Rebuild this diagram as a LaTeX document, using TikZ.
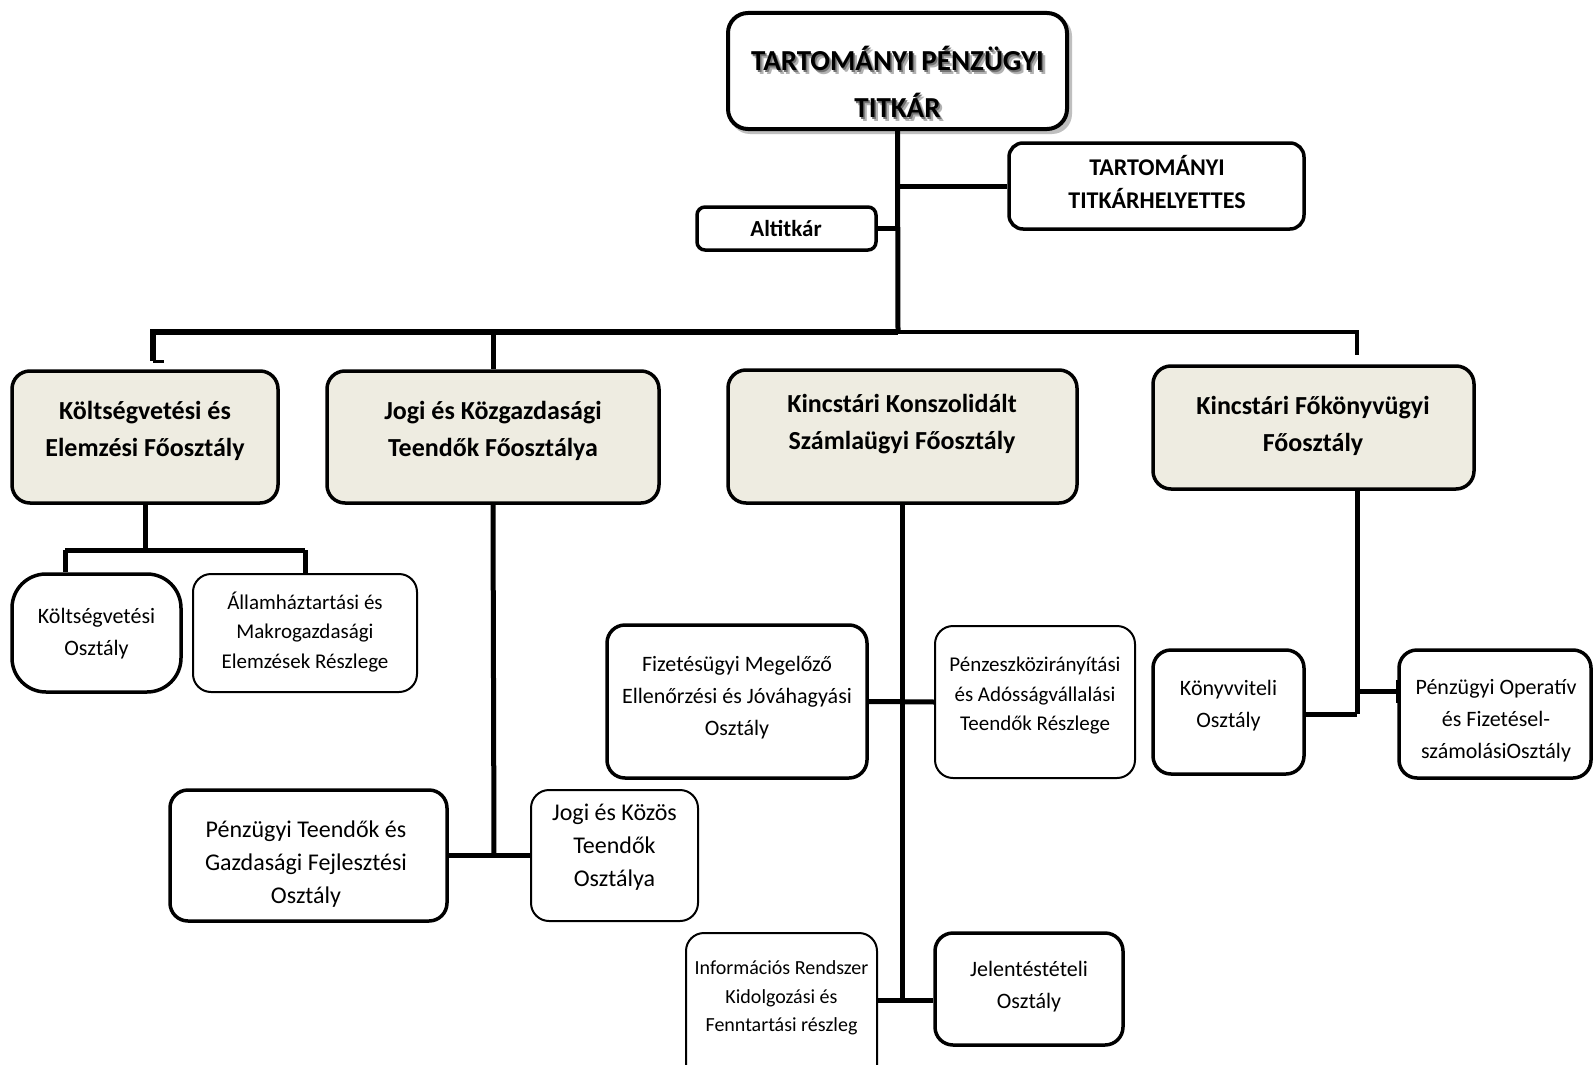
\documentclass[tikz,border=0pt]{standalone}
\usepackage{fontspec}
\setmainfont{Carlito}
\usetikzlibrary{calc}
\definecolor{beige}{HTML}{EEECE1}
\begin{document}
\begin{tikzpicture}[x=1pt,y=-1pt,
  bx/.style={draw=black, line width=3.5pt, rounded corners=18pt, fill=white, inner sep=0pt},
  thinbx/.style={draw=black, line width=2pt, rounded corners=18pt, fill=white, inner sep=0pt},
  head/.style={bx, fill=beige},
  txt/.style={align=center, inner sep=0pt},
  conn/.style={line width=5pt},
  connthin/.style={line width=4pt},
  fb26/.style={font=\fontsize{26}{37}\selectfont\bfseries},
  fb24/.style={font=\fontsize{24}{33}\selectfont\bfseries},
  fr24/.style={font=\fontsize{24}{33}\selectfont},
  fr22/.style={font=\fontsize{22}{32}\selectfont},
  fr21/.style={font=\fontsize{21}{29.5}\selectfont},
  fr20/.style={font=\fontsize{20}{28.5}\selectfont}]
\useasboundingbox (0,0) rectangle (1593,1065);
\fill[white] (0,0) rectangle (1593,1065);

% ---- top ----
\fill[black!25, rounded corners=20pt] (730,16) rectangle (1072,134);
\node[bx, line width=4pt, rounded corners=20pt, minimum width=339pt, minimum height=116pt] (top) at (897.5,71) {};
\node[txt, font=\fontsize{29}{47}\selectfont\bfseries, text=black!30] (topsh) at (901,86) {TARTOMÁNYI PÉNZÜGYI\\TITKÁR};
\node[txt, font=\fontsize{29}{47}\selectfont\bfseries, text=black!55] (topsh2) at (899,84) {TARTOMÁNYI PÉNZÜGYI\\TITKÁR};
\node[txt, font=\fontsize{29}{47}\selectfont\bfseries] (topt) at (897.5,82) {TARTOMÁNYI PÉNZÜGYI\\TITKÁR};

\node[bx, rounded corners=14pt, minimum width=295pt, minimum height=86pt] (dep) at (1156.5,186) {};
\node[txt, fb24] (dept) at (1157,182) {TARTOMÁNYI\\TITKÁRHELYETTES};

\node[bx, rounded corners=8pt, minimum width=179pt, minimum height=43pt] (alt) at (786.5,228.5) {};
\node[txt, font=\fontsize{23}{33}\selectfont\bfseries] (altt) at (786,228) {Altitkár};

% ---- heads ----
\node[head, minimum width=266pt, minimum height=132pt] (b1) at (145,437) {};
\node[txt, fb26] (b1t) at (145,431) {Költségvetési és\\Elemzési Főosztály};
\node[head, minimum width=332pt, minimum height=132pt] (b2) at (493,437) {};
\node[txt, fb26] (b2t) at (493,431) {Jogi és Közgazdasági\\Teendők Főosztálya};
\node[head, minimum width=349pt, minimum height=133pt] (b3) at (902.5,436.5) {};
\node[txt, fb26] (b3t) at (902,424) {Kincstári Konszolidált\\Számlaügyi Főosztály};
\node[head, minimum width=321pt, minimum height=123pt] (b4) at (1313.5,427.5) {};
\node[txt, fb26] (b4t) at (1313,426) {Kincstári Főkönyvügyi\\Főosztály};

% ---- departments ----
\node[bx, rounded corners=34pt, minimum width=169pt, minimum height=118pt] (c1) at (96.5,633) {};
\node[txt, fr22] (c1t) at (96.5,634) {Költségvetési\\Osztály};
\node[thinbx, minimum width=224pt, minimum height=118pt] (c2) at (305,633) {};
\node[txt, fr21] (c2t) at (305,632) {Államháztartási és\\Makrogazdasági\\Elemzések Részlege};

\node[bx, minimum width=277pt, minimum height=131pt] (c3) at (308.5,855.5) {};
\node[txt, fr24] (c3t) at (306,864) {Pénzügyi Teendők és\\Gazdasági Fejlesztési\\Osztály};
\node[thinbx, minimum width=167pt, minimum height=131pt] (c4) at (614.5,855.5) {};
\node[txt, fr24] (c4t) at (614.5,847) {Jogi és Közös\\Teendők\\Osztálya};

\node[bx, minimum width=260pt, minimum height=153pt] (c5) at (737,701.5) {};
\node[txt, fr22] (c5t) at (737,698) {Fizetésügyi Megelőző\\Ellenőrzési és Jóváhagyási\\Osztály};
\node[thinbx, minimum width=200pt, minimum height=152pt] (c6) at (1035,702) {};
\node[txt, fr21] (c6t) at (1035,696) {Pénzeszközirányítási\\és Adósságvállalási\\Teendők Részlege};
\node[thinbx, minimum width=191pt, minimum height=150pt] (c7) at (781.5,1008) {};
\node[txt, fr20] (c7t) at (781.5,998) {Információs Rendszer\\Kidolgozási és\\Fenntartási részleg};
\node[bx, minimum width=188pt, minimum height=112pt] (c8) at (1029,989) {};
\node[txt, fr22] (c8t) at (1029,987) {Jelentéstételi\\Osztály};

\node[bx, minimum width=151pt, minimum height=124pt] (c9) at (1228.5,712) {};
\node[txt, fr22] (c9t) at (1228.5,706) {Könyvviteli\\Osztály};
\node[bx, minimum width=192pt, minimum height=128pt] (c10) at (1495,714) {};
\node[txt, fr22] (c10t) at (1496,721) {Pénzügyi Operatív\\és Fizetésel-\\számolásiOsztály};

% ---- coordinates ----
\coordinate (bus) at (898,332);
\coordinate (busL) at (153,332);
\coordinate (busR) at (1357,332);
\coordinate (b1drop) at (153,361);
\coordinate (b1jog) at (164,361);
\coordinate (b4stub) at (1357,355);
\coordinate (j1) at (145,550);
\coordinate (j1l) at (65,550);
\coordinate (j1r) at (305,550);
\coordinate (j2) at (494,855.5);
\coordinate (j3) at (902.5,1000);
\coordinate (j4top) at (1357,489);
\coordinate (j4) at (1357,714);
\coordinate (j4b) at (1357,691);
\coordinate (tick) at (1397,691);
\coordinate (tickT) at (1397,680);
\coordinate (tickB) at (1397,703);

% ---- connectors ----
\draw[conn] (top.south) -- (bus);
\draw[conn] (top.south |- dep.west) -- (dep.west);
\draw[conn] (alt.east) -- (top.south |- alt.east);
\draw[conn, line width=6pt] (bus) -- (busL) -- (b1drop);
\draw[line width=3pt] (b1drop) -- (b1jog);
\draw[connthin] (bus) -- (busR) -- (b4stub);
\draw[conn] (b2.north |- bus) -- (b2.north);

\draw[conn] (b1.south) -- (j1);
\draw[conn] (j1l) -- (j1r);
\draw[conn] (j1l) -- (j1l |- c1.north);
\draw[conn] (j1r) -- (j1r |- c2.north);

\draw[conn] (b2.south) -- (j2);
\draw[conn] (c3.east) -- (c4.west);

\draw[conn] (b3.south) -- (j3);
\draw[conn] (c5.east) -- (c6.west);
\draw[conn] (c7.east |- j3) -- (c8.west |- j3);

\draw[conn] (j4top) -- (j4);
\draw[conn] (c9.east |- j4) -- (j4);
\draw[conn] (j4b) -- (tick);
\draw[line width=3pt] (tickT) -- (tickB);
\end{tikzpicture}
\end{document}
